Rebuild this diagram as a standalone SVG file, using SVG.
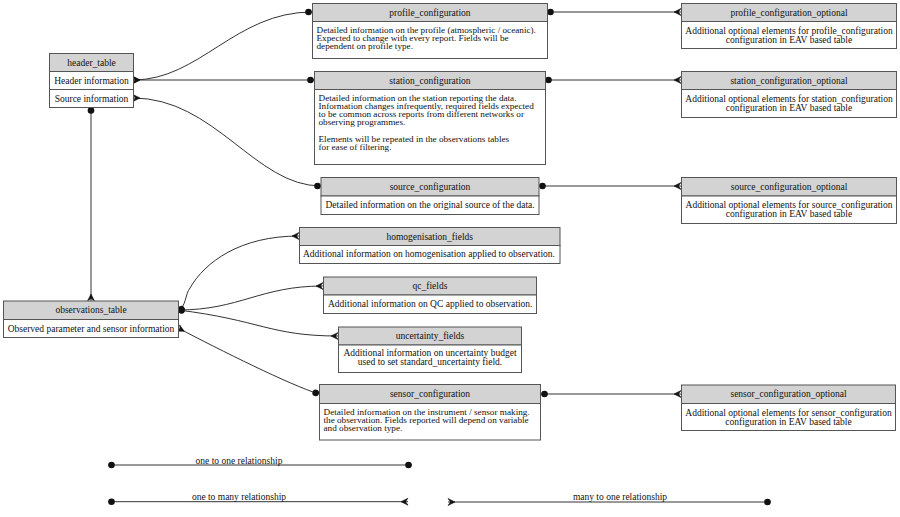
<svg xmlns="http://www.w3.org/2000/svg" width="900" height="517" viewBox="0 0 900 517">
<style>
text{font-family:"Liberation Serif","Times New Roman",serif;font-size:9.5px;fill:#111}
.c{text-anchor:middle}
.d{font-size:9.2px}
.hd{fill:#d3d3d3;stroke:#555;stroke-width:1}
.bx{fill:#fff;stroke:#555;stroke-width:1}
.e{fill:none;stroke:#333;stroke-width:1}
</style>
<defs>
<marker id="dot" markerUnits="userSpaceOnUse" viewBox="-8 -5 10 10" refX="0" refY="0" markerWidth="10" markerHeight="10" orient="auto-start-reverse" overflow="visible">
<circle cx="-3.5" cy="0" r="3.3" fill="#111"/>
</marker>
<marker id="crow" markerUnits="userSpaceOnUse" viewBox="-8 -5 10 10" refX="0" refY="0" markerWidth="10" markerHeight="10" orient="auto-start-reverse" overflow="visible">
<path d="M-7,0 L0,-3.5 L-2.5,0 L0,3.5 Z" fill="#111" stroke="#111" stroke-width="0.6" stroke-linejoin="round"/>
</marker>
</defs>

<g id="connectors">
<path class="e" d="M133,80 C200,80 235,12 312,12" marker-start="url(#crow)" marker-end="url(#dot)"/>
<path class="e" d="M133,80 L314,80" marker-start="url(#crow)" marker-end="url(#dot)"/>
<path class="e" d="M133,98 C215,98 255,186 321,186" marker-start="url(#crow)" marker-end="url(#dot)"/>
<path class="e" d="M91,107 L91,301" marker-start="url(#dot)" marker-end="url(#crow)"/>
<path class="e" d="M547,12 L681,12" marker-start="url(#dot)" marker-end="url(#crow)"/>
<path class="e" d="M545,80 L681,80" marker-start="url(#dot)" marker-end="url(#crow)"/>
<path class="e" d="M539,186 L681,186" marker-start="url(#dot)" marker-end="url(#crow)"/>
<path class="e" d="M541,394 L681,394" marker-start="url(#dot)" marker-end="url(#crow)"/>
<path class="e" d="M178,310 C186,308 185,294 190,288 C205,262 240,236 299,236" marker-start="url(#dot)" marker-end="url(#crow)"/>
<path class="e" d="M178,310 C240,310 260,286 323,286" marker-start="url(#dot)" marker-end="url(#crow)"/>
<path class="e" d="M178,310 C260,320 270,336 338,336" marker-start="url(#dot)" marker-end="url(#crow)"/>
<path class="e" d="M178,328 C220,350 290,385 319,394" marker-start="url(#crow)" marker-end="url(#dot)"/>
</g>

<g id="header_table">
<rect class="hd" x="49.5" y="53.5" width="84" height="18"/>
<rect class="bx" x="49.5" y="71.5" width="84" height="18"/>
<rect class="bx" x="49.5" y="89.5" width="84" height="18"/>
<text class="c" x="91.5" y="65.5">header_table</text>
<text class="c" x="91.5" y="83.5">Header information</text>
<text class="c" x="91.5" y="101.5">Source information</text>
</g>

<g id="profile_configuration">
<rect class="hd" x="312.5" y="3.5" width="235" height="18"/>
<rect class="bx" x="312.5" y="21.5" width="235" height="37"/>
<text class="c" x="430" y="15.5">profile_configuration</text>
<text class="d" x="316.5" y="32.5">Detailed information on the profile (atmospheric / oceanic).</text>
<text class="d" x="316.5" y="40.8">Expected to change with every report. Fields will be</text>
<text class="d" x="316.5" y="49.1">dependent on profile type.</text>
</g>

<g id="station_configuration">
<rect class="hd" x="314.5" y="71.5" width="231" height="18"/>
<rect class="bx" x="314.5" y="89.5" width="231" height="75"/>
<text class="c" x="430" y="83.5">station_configuration</text>
<text class="d" x="318.5" y="100.5">Detailed information on the station reporting the data.</text>
<text class="d" x="318.5" y="108.8">Information changes infrequently, required fields expected</text>
<text class="d" x="318.5" y="117.1">to be common across reports from different networks or</text>
<text class="d" x="318.5" y="125.4">observing programmes.</text>
<text class="d" x="318.5" y="142">Elements will be repeated in the observations tables</text>
<text class="d" x="318.5" y="150.3">for ease of filtering.</text>
</g>

<g id="source_configuration">
<rect class="hd" x="321" y="177.5" width="218" height="18.5"/>
<rect class="bx" x="321" y="196" width="218" height="18.5"/>
<text class="c" x="430" y="189.5">source_configuration</text>
<text x="325.5" y="208.2">Detailed information on the original source of the data.</text>
</g>

<g id="profile_configuration_optional">
<rect class="hd" x="681.5" y="3.5" width="215" height="18"/>
<rect class="bx" x="681.5" y="21.5" width="215" height="27"/>
<text class="c" x="789" y="15.5">profile_configuration_optional</text>
<text class="c" x="789" y="34">Additional optional elements for profile_configuration</text>
<text class="c" x="789" y="42.5">configuration in EAV based table</text>
</g>

<g id="station_configuration_optional">
<rect class="hd" x="681.5" y="71.5" width="215" height="18"/>
<rect class="bx" x="681.5" y="89.5" width="215" height="28"/>
<text class="c" x="789" y="83.5">station_configuration_optional</text>
<text class="c" x="789" y="102">Additional optional elements for station_configuration</text>
<text class="c" x="789" y="110.5">configuration in EAV based table</text>
</g>

<g id="source_configuration_optional">
<rect class="hd" x="681.5" y="177.5" width="215" height="18.5"/>
<rect class="bx" x="681.5" y="196" width="215" height="27.5"/>
<text class="c" x="789" y="189.5">source_configuration_optional</text>
<text class="c" x="789" y="208">Additional optional elements for source_configuration</text>
<text class="c" x="789" y="216.5">configuration in EAV based table</text>
</g>

<g id="homogenisation_fields">
<rect class="hd" x="299.5" y="227.5" width="260.5" height="18"/>
<rect class="bx" x="299.5" y="245.5" width="260.5" height="18"/>
<text class="c" x="429.7" y="239.5">homogenisation_fields</text>
<text x="303" y="257.3">Additional information on homogenisation applied to observation.</text>
</g>

<g id="qc_fields">
<rect class="hd" x="323.5" y="277" width="213" height="18"/>
<rect class="bx" x="323.5" y="295" width="213" height="18.5"/>
<text class="c" x="430" y="289">qc_fields</text>
<text x="328" y="307.3">Additional information on QC applied to observation.</text>
</g>

<g id="uncertainty_fields">
<rect class="hd" x="338.5" y="327" width="183" height="18"/>
<rect class="bx" x="338.5" y="345" width="183" height="27.5"/>
<text class="c" x="430" y="339">uncertainty_fields</text>
<text class="c" x="430" y="356">Additional information on uncertainty budget</text>
<text class="c" x="430" y="364.5">used to set standard_uncertainty field.</text>
</g>

<g id="sensor_configuration">
<rect class="hd" x="319.5" y="384.5" width="221" height="19"/>
<rect class="bx" x="319.5" y="403.5" width="221" height="36.5"/>
<text class="c" x="430" y="397">sensor_configuration</text>
<text class="d" x="323.5" y="414.5">Detailed information on the instrument / sensor making.</text>
<text class="d" x="323.5" y="422.8">the observation. Fields reported will depend on variable</text>
<text class="d" x="323.5" y="431.1">and observation type.</text>
</g>

<g id="sensor_configuration_optional">
<rect class="hd" x="681.5" y="385" width="214" height="18.5"/>
<rect class="bx" x="681.5" y="403.5" width="214" height="27"/>
<text class="c" x="788.5" y="397">sensor_configuration_optional</text>
<text class="c" x="788.5" y="416">Additional optional elements for sensor_configuration</text>
<text class="c" x="788.5" y="424.5">configuration in EAV based table</text>
</g>

<g id="observations_table">
<rect class="hd" x="3.5" y="301" width="175" height="18.5"/>
<rect class="bx" x="3.5" y="319.5" width="175" height="18"/>
<text class="c" x="91" y="313.3">observations_table</text>
<text class="c" x="91" y="331.5">Observed parameter and sensor information</text>
</g>

<g id="legend">
<path class="e" d="M108,465 L412,465" marker-start="url(#dot)" marker-end="url(#dot)"/>
<text class="c" x="239" y="464">one to one relationship</text>
<path class="e" d="M108,501.7 L408,501.7" marker-start="url(#dot)" marker-end="url(#crow)"/>
<text class="c" x="239" y="500">one to many relationship</text>
<path class="e" d="M448,502 L771,502" marker-start="url(#crow)" marker-end="url(#dot)"/>
<text class="c" x="620" y="499.5">many to one relationship</text>
</g>
</svg>
